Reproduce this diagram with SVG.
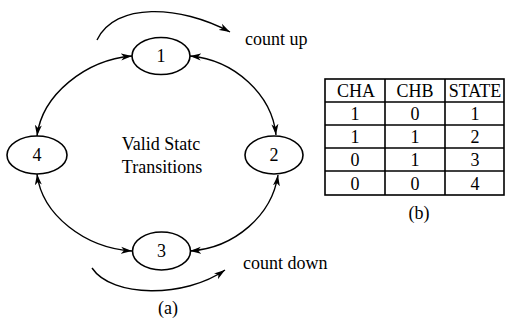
<svg xmlns="http://www.w3.org/2000/svg" width="506" height="323" viewBox="0 0 506 323">
<defs>
<marker id="ah" markerWidth="12" markerHeight="8" refX="11" refY="4" orient="auto-start-reverse" markerUnits="userSpaceOnUse">
<path d="M0,0.5 L11,4 L0,7.5 L3,4 Z" fill="#000"/>
</marker>
<style>
.n{fill:#fff;stroke:#000;stroke-width:1.6}
.c{fill:none;stroke:#000;stroke-width:1.4}
.t{font-family:"Liberation Serif","Times New Roman",serif;font-size:18px;fill:#000;text-anchor:middle}
.tl{font-family:"Liberation Serif","Times New Roman",serif;font-size:18px;fill:#000}
.g{stroke:#000;stroke-width:1.6;fill:none}
</style>
</defs>
<rect width="506" height="323" fill="#fff"/>
<g id="connectors">
<path class="c" d="M190,56 C235,60 272,95 276,135" marker-start="url(#ah)" marker-end="url(#ah)"/>
<path class="c" d="M132,56 C85,60 42,95 37,136" marker-start="url(#ah)" marker-end="url(#ah)"/>
<path class="c" d="M37,174 C42,215 85,248 132,251" marker-start="url(#ah)" marker-end="url(#ah)"/>
<path class="c" d="M190,251 C235,248 272,215 278,175" marker-start="url(#ah)" marker-end="url(#ah)"/>
<path class="c" d="M97,40 C115,2 180,5 230,32" marker-end="url(#ah)"/>
<path class="c" d="M92,268 C112,298 185,298 225,270" marker-end="url(#ah)"/>
</g>
<g id="node1"><ellipse class="n" cx="161" cy="56" rx="29" ry="18.5"/><text class="t" x="161" y="62">1</text></g>
<g id="node2"><ellipse class="n" cx="274" cy="155" rx="29" ry="19"/><text class="t" x="274" y="161">2</text></g>
<g id="node3"><ellipse class="n" cx="161.5" cy="251" rx="29" ry="19"/><text class="t" x="161.5" y="257">3</text></g>
<g id="node4"><ellipse class="n" cx="37" cy="155" rx="30" ry="19"/><text class="t" x="37" y="161">4</text></g>
<g id="labels">
<text class="t" x="161" y="150">Valid Statc</text>
<text class="t" x="162" y="173">Transitions</text>
<text class="tl" x="245" y="45">count up</text>
<text class="tl" x="243" y="269">count down</text>
<text class="t" x="168" y="314">(a)</text>
<text class="t" x="419" y="219">(b)</text>
</g>
<g id="table">
<rect class="g" x="325" y="79" width="179" height="116"/>
<line class="g" x1="385" y1="79" x2="385" y2="195"/>
<line class="g" x1="445" y1="79" x2="445" y2="195"/>
<line class="g" x1="325" y1="102" x2="504" y2="102"/>
<line class="g" x1="325" y1="125" x2="504" y2="125"/>
<line class="g" x1="325" y1="148" x2="504" y2="148"/>
<line class="g" x1="325" y1="171" x2="504" y2="171"/>
<text class="t" x="356" y="97">CHA</text>
<text class="t" x="415" y="97">CHB</text>
<text class="t" x="475" y="97">STATE</text>
<text class="t" x="355" y="120">1</text><text class="t" x="415" y="120">0</text><text class="t" x="475" y="120">1</text>
<text class="t" x="355" y="143">1</text><text class="t" x="415" y="143">1</text><text class="t" x="475" y="143">2</text>
<text class="t" x="355" y="166">0</text><text class="t" x="415" y="166">1</text><text class="t" x="475" y="166">3</text>
<text class="t" x="355" y="190">0</text><text class="t" x="415" y="190">0</text><text class="t" x="475" y="190">4</text>
</g>
</svg>
